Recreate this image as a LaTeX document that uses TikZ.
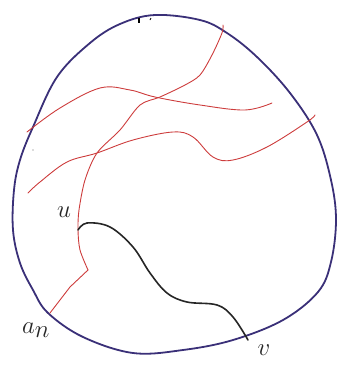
\documentclass[tikz,border=0pt]{standalone}
\begin{document}
\begin{tikzpicture}[x=1pt,y=-1pt,
  outline/.style={draw={rgb,255:red,58;green,48;blue,120},line width=1.8pt,line cap=round,line join=round},
  redline/.style={draw={rgb,255:red,205;green,60;blue,60},line width=0.9pt,line cap=round},
  blackline/.style={draw=black!85,line width=1.6pt,line cap=round},
  lbl/.style={inner sep=0pt,text=black!85}]
\useasboundingbox (0,0) rectangle (342,367);
% outline
\draw[outline] plot[smooth cycle,tension=0.6] coordinates {
 (155,15) (200,20) (227,33) (257,57) (290,93) (317,135) (331,180) (336,220)
 (331,262) (318,292) (283,320) (233,340) (183,350) (133,353) (83,337) (48,313)
 (33,290) (20,263) (13,230) (14,190) (20,160) (33,127) (57,77) (90,43) (120,24)};
% small marks
\draw[black,line width=1.2pt] (139,18) -- (139,23);
\draw[black,line width=0.8pt] (151,18) -- (150,20);
\fill[black!60] (33,150) circle (0.7);
% long red curve
\draw[redline] plot[smooth,tension=0.5] coordinates {
 (223,25) (222,33) (212,55) (200,75) (185,85) (160,97) (140,105) (120,130)
 (97,153) (85,180) (79,210) (78,230) (80,250) (88,270)};
\draw[redline] (88,270) -- (70,287) -- (50,313);
% upper red curve
\draw[redline] plot[smooth,tension=0.6] coordinates {
 (27,132) (60,108) (100,88) (130,90) (155,97) (200,105) (245,110) (272,103)};
% lower red curve
\draw[redline] plot[smooth,tension=0.6] coordinates {
 (28,193) (40,182) (67,162) (97,153) (133,140) (173,132) (193,137) (213,157)
 (233,160) (267,147) (307,122) (315,115)};
% black curve u -> v
\draw[blackline] plot[smooth,tension=0.6] coordinates {
 (78,230) (87,223) (110,227) (133,247) (150,273) (167,293) (187,302) (217,305)
 (233,317) (248,340)};
% labels
\node[lbl] (u) at (64,212) {\fontsize{28}{28}\selectfont$u$};
\node[lbl] (an) at (36,330) {\fontsize{42}{42}\selectfont$a_n$};
\node[lbl] (v) at (264,350) {\fontsize{40}{40}\selectfont$v$};
\end{tikzpicture}
\end{document}
